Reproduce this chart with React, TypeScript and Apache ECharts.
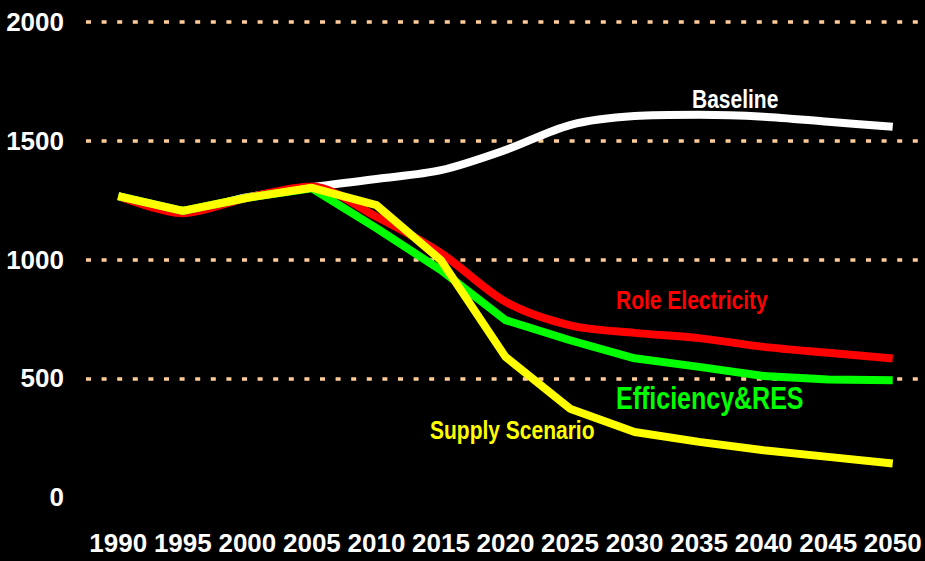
import React, { useEffect, useRef } from "react";
import * as echarts from "echarts";

const years = ["1990", "1995", "2000", "2005", "2010", "2015", "2020", "2025", "2030", "2035", "2040", "2045", "2050"];
const baseline = [1267, 1205, 1262, 1304, 1339, 1376, 1461, 1566, 1604, 1609, 1601, 1580, 1559];
const roleElectricity = [1267, 1195, 1260, 1307, 1180, 1027, 822, 723, 691, 669, 632, 607, 583];
const efficiencyRes = [1267, 1205, 1260, 1300, 1132, 955, 745, 660, 584, 548, 509, 495, 492];
const supplyScenario = [1267, 1205, 1260, 1302, 1229, 997, 590, 372, 274, 232, 197, 169, 141];
const yTicks = { min: 0, max: 2000, interval: 500 };

const FONT = "'Liberation Sans', Arial, sans-serif";

export default function App() {
  const ref = useRef<HTMLDivElement>(null);
  useEffect(() => {
    if (!ref.current) return;
    const chart = echarts.init(ref.current, null, { renderer: "svg" });
    const mk = (name: string, data: number[], color: string, smooth: number | boolean) => ({
      name,
      type: "line",
      data,
      smooth,
      symbol: "none",
      lineStyle: { color, width: 8, cap: "butt", join: "round" },
      itemStyle: { color },
      z: 2,
    });
    const label = (text: string, x: number, y: number, color: string, size: number, sy: number) => ({
      type: "text",
      x,
      y,
      scaleY: sy,
      z: 10,
      style: { text, fill: color, font: `bold ${size}px ${FONT}`, textAlign: "left", textVerticalAlign: "middle" },
    });
    chart.setOption({
      animation: false,
      backgroundColor: "#000000",
      grid: { left: 86, right: 0, top: 22, bottom: 64, containLabel: false, outerBoundsMode: "none" },
      xAxis: {
        type: "category",
        data: years,
        boundaryGap: true,
        axisLine: { show: false },
        axisTick: { show: false },
        axisLabel: {
          color: "#FFFFFF",
          fontFamily: FONT,
          fontWeight: "bold",
          fontSize: 26,
          margin: 33,
          interval: 0,
        },
        splitLine: { show: false },
      },
      yAxis: {
        type: "value",
        min: yTicks.min,
        max: yTicks.max,
        interval: yTicks.interval,
        axisLine: { show: false },
        axisTick: { show: false },
        axisLabel: {
          color: "#FFFFFF",
          fontFamily: FONT,
          fontWeight: "bold",
          fontSize: 26,
          margin: 22,
          formatter: (v: number) => String(v),
        },
        splitLine: {
          show: true,
          showMinLine: false,
          lineStyle: { color: "#FFCC99", width: 3.5, type: [5, 10.6] },
        },
      },
      series: [
        mk("Baseline", baseline, "#FFFFFF", 0.3),
        mk("Role Electricity", roleElectricity, "#FF0000", 0.3),
        mk("Efficiency&RES", efficiencyRes, "#00FF00", false),
        mk("Supply Scenario", supplyScenario, "#FFFF00", false),
      ],
      graphic: [
        label("Baseline", 692, 99, "#FFFFFF", 21, 1.2),
        label("Role Electricity", 616, 300, "#FF0000", 21, 1.2),
        label("Efficiency&RES", 616, 399, "#00FF00", 25, 1.22),
        label("Supply Scenario", 430, 430, "#FFFF00", 21, 1.2),
      ],
    });
    return () => chart.dispose();
  }, []);
  return <div ref={ref} style={{ position: "fixed", left: 0, top: 0, width: 925, height: 561 }} />;
}
